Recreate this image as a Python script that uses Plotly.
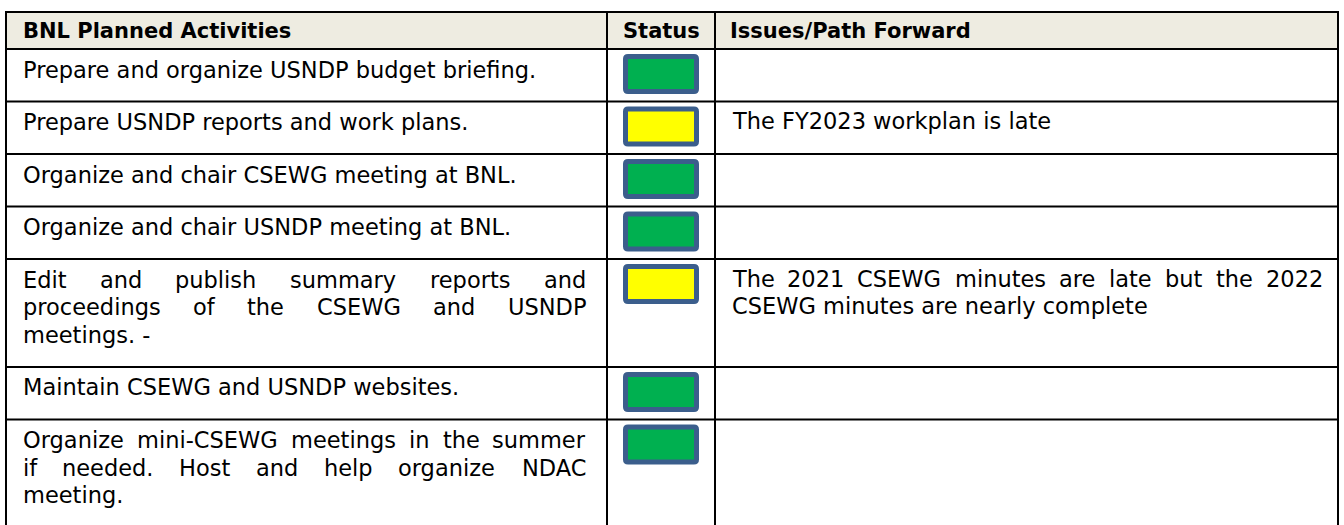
import plotly.graph_objects as go

# ---------------- data ----------------
headers = ["BNL Planned Activities", "Status", "Issues/Path Forward"]
activities = [
    "Prepare and organize USNDP budget briefing.",
    "Prepare USNDP reports and work plans.",
    "Organize and chair CSEWG meeting at BNL.",
    "Organize and chair USNDP meeting at BNL.",
    "Edit and publish summary reports and\nproceedings of the CSEWG and USNDP\nmeetings. -",
    "Maintain CSEWG and USNDP websites.",
    "Organize mini-CSEWG meetings in the summer\nif needed. Host and help organize NDAC\nmeeting.",
]
statuses = ["green", "yellow", "green", "green", "yellow", "green", "green"]
issues = [
    "",
    "The FY2023 workplan is late",
    "",
    "",
    "The 2021 CSEWG minutes are late but the 2022\nCSEWG minutes are nearly complete",
    "",
    "",
]

# ---------------- styles / layout ----------------
W, H = 1344, 525
FONT = "DejaVu Sans"
FS = 22.5
HFS = 21
STATUS_FILL = {"green": "#00B050", "yellow": "#FFFF00"}
BOX_LINE = "#3B5E8C"
HEADER_BG = "#EEECE1"
X_EDGES = [6, 607, 715, 1338]
TOP = 12
HEADER_H = 37
ROW_BASE = 52.5
LINE_STEP = 27.7
COL1_L, COL1_R = 22.7, 586
COL3_L, COL3_R = 731.7, 1323
COL1_DY = 20.5
COL3_DY = 19.5

# approximate DejaVu Sans advance widths (em) for justification
_W = {' ': .318, '.': .318, ',': .318, '-': .361, '/': .337}
_W.update(dict(zip("abcdefghijklmnopqrstuvwxyz",
                   [.613, .635, .550, .635, .615, .352, .635, .634, .278, .278, .579, .278, .974,
                    .634, .612, .635, .635, .411, .521, .392, .634, .592, .818, .592, .592, .525])))
_W.update(dict(zip("ABCDEFGHIJKLMNOPQRSTUVWXYZ",
                   [.684, .686, .698, .770, .632, .575, .775, .752, .295, .295, .656, .557, .863,
                    .748, .787, .603, .787, .695, .635, .611, .732, .684, .989, .685, .611, .685])))
for d in "0123456789":
    _W[d] = .636


def text_w(s, size):
    return sum(_W.get(c, .6) for c in s) * size


fig = go.Figure()


def add_text(s, x, y, anchor="left", bold=False, size=FS):
    fig.add_annotation(
        x=x, y=y, xref="x", yref="y", text=("<b>%s</b>" % s) if bold else s,
        showarrow=False, xanchor=anchor, yanchor="middle",
        font=dict(family=FONT, size=size, color="black"),
        borderpad=0, borderwidth=0,
    )


def add_paragraph(txt, left, right, y0):
    lines = txt.split("\n")
    for i, line in enumerate(lines):
        y = y0 + i * LINE_STEP
        words = line.split(" ")
        if i < len(lines) - 1 and len(words) > 1:
            widths = [text_w(w, FS) for w in words]
            gap = (right - left - sum(widths)) / (len(words) - 1)
            pos = left
            for j, (w, ww) in enumerate(zip(words, widths)):
                if j == 0:
                    add_text(w, left, y, "left")
                elif j == len(words) - 1:
                    add_text(w, right, y, "right")
                else:
                    add_text(w, pos + ww / 2, y, "center")
                pos += ww + gap
        else:
            add_text(line, left, y, "left")


def rounded(x0, y0, x1, y1, r):
    return (f"M {x0+r},{y0} L {x1-r},{y0} Q {x1},{y0} {x1},{y0+r} L {x1},{y1-r} "
            f"Q {x1},{y1} {x1-r},{y1} L {x0+r},{y1} Q {x0},{y1} {x0},{y1-r} "
            f"L {x0},{y0+r} Q {x0},{y0} {x0+r},{y0} Z")


# row edges from number of text lines
row_edges = [TOP, TOP + HEADER_H]
for a, iss in zip(activities, issues):
    n = max(a.count("\n"), iss.count("\n")) + 1
    row_edges.append(row_edges[-1] + ROW_BASE + LINE_STEP * (n - 1))

shapes = []
# header background
shapes.append(dict(type="rect", xref="x", yref="y", x0=X_EDGES[0], x1=X_EDGES[-1],
                   y0=row_edges[0], y1=row_edges[1], fillcolor=HEADER_BG, line=dict(width=0),
                   layer="below"))

# header texts
hy = (row_edges[0] + row_edges[1]) / 2 + 0.5
add_text(headers[0], COL1_L, hy, "left", bold=True, size=HFS)
add_text(headers[1], (X_EDGES[1] + X_EDGES[2]) / 2, hy, "center", bold=True, size=HFS)
add_text(headers[2], X_EDGES[2] + 15, hy, "left", bold=True, size=HFS)

# body rows
for i, (a, st, iss) in enumerate(zip(activities, statuses, issues)):
    top = row_edges[i + 1]
    add_paragraph(a, COL1_L, COL1_R, top + COL1_DY)
    if iss:
        add_paragraph(iss, COL3_L, COL3_R, top + COL3_DY)
    cx = (X_EDGES[1] + X_EDGES[2]) / 2
    bx0, bx1 = cx - 38 + 2.5, cx + 38 - 2.5
    by0, by1 = top + 5 + 2.5, top + 45 - 2.5
    shapes.append(dict(type="path", xref="x", yref="y", path=rounded(bx0, by0, bx1, by1, 2.5),
                       fillcolor=STATUS_FILL[st], line=dict(color=BOX_LINE, width=5)))

# grid lines
bottom = row_edges[-1] + 5
for y in row_edges:
    shapes.append(dict(type="line", xref="x", yref="y", x0=X_EDGES[0] - 1, x1=X_EDGES[-1] + 1,
                       y0=y, y1=y, line=dict(color="black", width=2)))
for x in X_EDGES:
    shapes.append(dict(type="line", xref="x", yref="y", x0=x, x1=x, y0=row_edges[0] - 1,
                       y1=bottom, line=dict(color="black", width=2)))

fig.update_layout(
    shapes=shapes,
    width=W, height=H, autosize=False,
    margin=dict(l=0, r=0, t=0, b=0, pad=0),
    paper_bgcolor="white", plot_bgcolor="white",
    xaxis=dict(range=[0, W], visible=False, fixedrange=True),
    yaxis=dict(range=[H, 0], visible=False, fixedrange=True),
    showlegend=False,
)

fig.write_html(
    "out.html",
    config={"displayModeBar": False},
    post_script="document.body.style.margin='0';document.body.style.overflow='hidden';",
)
